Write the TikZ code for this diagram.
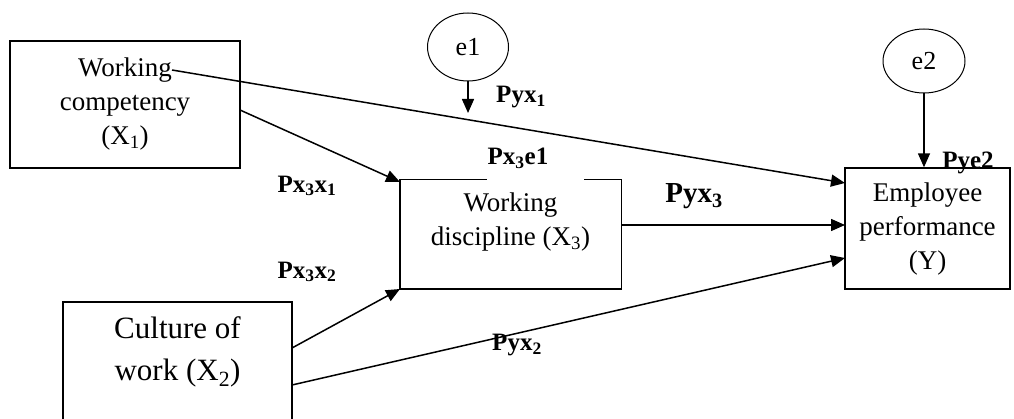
\documentclass[tikz,border=0pt]{standalone}
\usepackage{fontspec}
\setmainfont{Liberation Serif}
\usetikzlibrary{arrows.meta,shapes.geometric}
\tikzset{
  boxtext/.style={font=\fontsize{27}{34}\selectfont, align=center, inner sep=0pt},
  bigtext/.style={font=\fontsize{31}{42}\selectfont, align=center, inner sep=0pt},
  errnode/.style={draw, ellipse, line width=1pt, font=\fontsize{26}{28}\selectfont, inner sep=0pt},
  lbl/.style={font=\fontsize{25}{28}\selectfont\bfseries, inner sep=0pt},
  biglbl/.style={font=\fontsize{29}{32}\selectfont\bfseries, inner sep=0pt},
  boxline/.style={line width=1.4pt},
  conn/.style={line width=1.5pt, -{Triangle[length=14pt,width=12pt]}},
}
\begin{document}
\begin{tikzpicture}[x=1pt,y=-1pt]
\useasboundingbox (0,0) rectangle (1014,419);
% boxes
\node[draw, boxline, minimum width=230pt, minimum height=127pt, inner sep=0pt] (X1) at (125,104.5) {};
\node[boxtext] (X1t) at (125,104) {Working\\competency\\(X\textsubscript{1})};
\node[minimum width=221pt, minimum height=109pt, inner sep=0pt] (X3) at (510.5,234.5) {};
\node[boxtext] (X3t) at (510.5,222) {Working\\discipline (X\textsubscript{3})};
\draw[boxline] ([xshift=87pt]X3.north west) -- (X3.north west) -- (X3.south west) -- (X3.south east) -- (X3.north east) -- ([xshift=-37pt]X3.north east);
\node[draw, boxline, minimum width=165pt, minimum height=121pt, inner sep=0pt] (Y) at (927.5,228.5) {};
\node[boxtext] (Yt) at (927.5,229) {Employee\\performance\\(Y)};
\coordinate (X2tl) at (63,302);
\coordinate (X2tr) at (292,302);
\draw[boxline] (63,425) -- (X2tl) -- (X2tr) -- (292,425);
\node[bigtext] (X2t) at (177.5,352) {Culture of\\work (X\textsubscript{2})};
% error terms
\node[errnode, minimum width=81pt, minimum height=68pt] (e1) at (468,47) {e1};
\node[errnode, minimum width=82pt, minimum height=64pt] (e2) at (924,61) {e2};
% connector points
\coordinate (s1) at (172,70);
\coordinate (t1) at (845,183);
\coordinate (s2) at (240,110);
\coordinate (t2) at (400,182);
\coordinate (s3) at (292,348);
\coordinate (t3) at (400,289);
\coordinate (s4) at (292,385);
\coordinate (t4) at (845,258);
\coordinate (s5) at (621,225);
\coordinate (t5) at (845,225);
\coordinate (e1end) at (468,113);
% connectors
\draw[conn] (s1) -- (t1);
\draw[conn] (s2) -- (t2);
\draw[conn] (s3) -- (t3);
\draw[conn] (s4) -- (t4);
\draw[conn] (s5) -- (t5);
\draw[conn] (e1.south) -- (e1end);
\draw[conn] (e2.south) -- (Y.north -| e2.south);
% labels
\node[lbl] (lPyx1) at (521,97) {Pyx\textsubscript{1}};
\node[lbl] (lPx3e1) at (518,158) {Px\textsubscript{3}e1};
\node[lbl] (lPx3x1) at (307,186) {Px\textsubscript{3}x\textsubscript{1}};
\node[lbl] (lPx3x2) at (307,272) {Px\textsubscript{3}x\textsubscript{2}};
\node[biglbl] (lPyx3) at (694,196) {Pyx\textsubscript{3}};
\node[lbl] (lPyx2) at (517,345) {Pyx\textsubscript{2}};
\node[lbl] (lPye2) at (968,163) {Pye2};
\end{tikzpicture}
\end{document}
